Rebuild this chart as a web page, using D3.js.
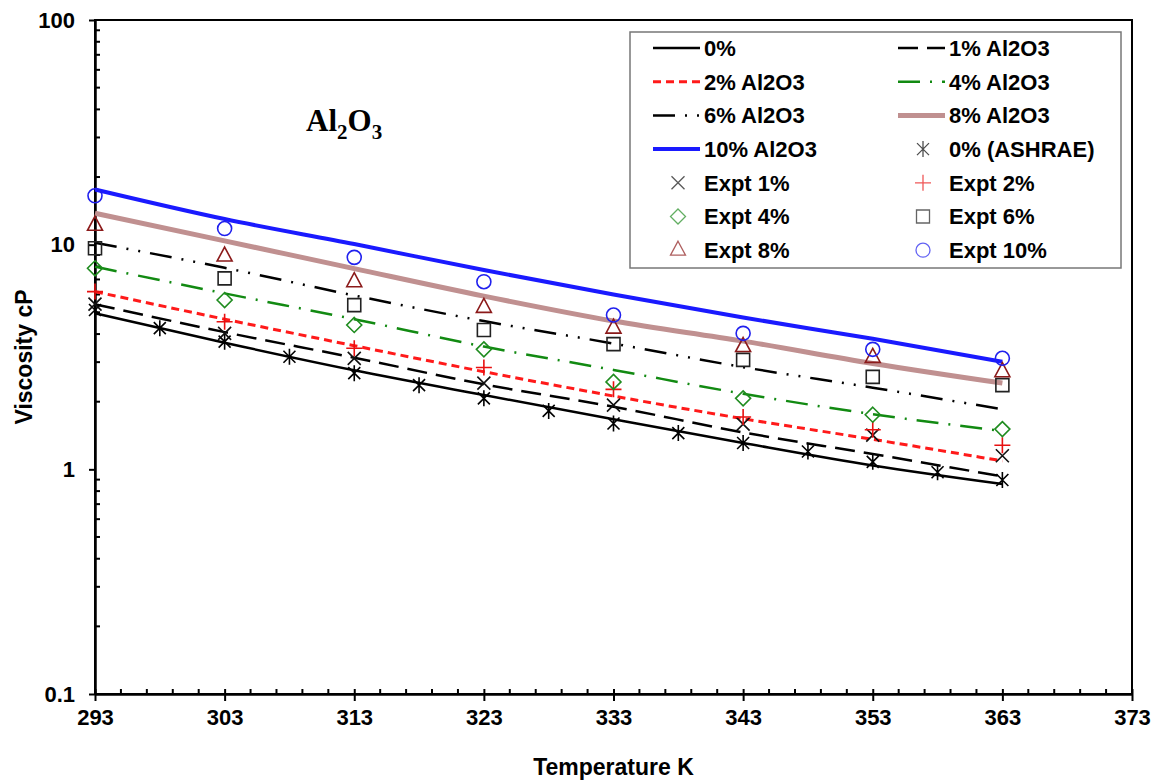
<!DOCTYPE html>
<html>
<head>
<meta charset="utf-8">
<script src="https://cdn.jsdelivr.net/npm/d3@7"></script>
<style>
  body { margin: 0; background: #fff; }
  text { font-family: "Liberation Sans", Arial, sans-serif; font-weight: bold; fill: #000; }
</style>
</head>
<body>
<svg id="chart"></svg>
<script>
// temperatures (K) for model curves and experiments
const temps = [293, 303, 313, 323, 333, 343, 353, 363];
const ashraeTemps = [293, 298, 303, 308, 313, 318, 323, 328, 333, 338, 343, 348, 353, 358, 363];

// model curves, viscosity in cP
const model0 = [4.95, 3.66, 2.76, 2.14, 1.67, 1.31, 1.04, 0.86];
const model1 = [5.43, 4.08, 3.14, 2.39, 1.90, 1.46, 1.17, 0.93];
const model2 = [6.18, 4.66, 3.55, 2.72, 2.12, 1.68, 1.36, 1.09];
const model4 = [7.98, 6.07, 4.66, 3.52, 2.77, 2.17, 1.76, 1.48];
const model6 = [10.2, 7.89, 5.94, 4.57, 3.63, 2.85, 2.31, 1.85];
const model8 = [13.8, 10.4, 7.82, 5.90, 4.57, 3.72, 2.96, 2.42];
const model10 = [17.6, 13.0, 10.06, 7.71, 6.00, 4.74, 3.81, 3.01];

// ASHRAE base fluid
const ashrae0 = [5.12, 4.25, 3.70, 3.17, 2.68, 2.37, 2.07, 1.82, 1.60, 1.45, 1.31, 1.20, 1.08, 0.97, 0.896];

// experiments
const expt1 = [5.44, 4.03, 3.12, 2.42, 1.93, 1.59, 1.42, 1.15];
const expt2 = [6.18, 4.54, 3.46, 2.84, 2.27, 1.71, 1.50, 1.28];
const expt4 = [7.85, 5.67, 4.39, 3.42, 2.45, 2.07, 1.75, 1.51];
const expt6 = [9.64, 7.08, 5.38, 4.17, 3.61, 3.07, 2.58, 2.37];
const expt8 = [12.2, 8.90, 6.84, 5.26, 4.25, 3.52, 3.15, 2.72];
const expt10 = [16.5, 11.8, 8.78, 6.84, 4.86, 4.03, 3.42, 3.12];

const xTicks = [293, 303, 313, 323, 333, 343, 353, 363, 373];
const yTicks = [0.1, 1, 10, 100];

const width = 1159, height = 784;
const margin = { top: 20, right: 27, bottom: 90, left: 95 };

const svg = d3.select("#chart").attr("width", width).attr("height", height);

const x = d3.scaleLinear().domain([293, 373]).range([margin.left, width - margin.right]);
const y = d3.scaleLog().domain([0.1, 100]).range([height - margin.bottom, margin.top]);

const lines = [
  { name: "0%", data: model0, color: "#000", w: 2.5, dash: null },
  { name: "1% Al2O3", data: model1, color: "#000", w: 2.5, dash: "20,9" },
  { name: "2% Al2O3", data: model2, color: "#ff1a1a", w: 3, dash: "8,5" },
  { name: "4% Al2O3", data: model4, color: "#128a12", w: 2.5, dash: "22,10,2,10" },
  { name: "6% Al2O3", data: model6, color: "#000", w: 2.5, dash: "22,10,2,10,2,10" },
  { name: "8% Al2O3", data: model8, color: "#c09090", w: 5, dash: null },
  { name: "10% Al2O3", data: model10, color: "#1a1aff", w: 4, dash: null }
];

const points = [
  { name: "0% (ASHRAE)", t: ashraeTemps, data: ashrae0, shape: "star", color: "#000" },
  { name: "Expt 1%", t: temps, data: expt1, shape: "x", color: "#111" },
  { name: "Expt 2%", t: temps, data: expt2, shape: "plus", color: "#e81010" },
  { name: "Expt 4%", t: temps, data: expt4, shape: "diamond", color: "#1f8c1f" },
  { name: "Expt 6%", t: temps, data: expt6, shape: "square", color: "#222" },
  { name: "Expt 8%", t: temps, data: expt8, shape: "triangle", color: "#8b1a1a" },
  { name: "Expt 10%", t: temps, data: expt10, shape: "circle", color: "#2020ee" }
];

function markerPath(shape) {
  const p = d3.path();
  if (shape === "circle") { p.arc(0, 0, 7, 0, 2 * Math.PI); p.closePath(); }
  else if (shape === "square") { p.rect(-6.5, -6.5, 13, 13); }
  else if (shape === "diamond") { p.moveTo(0, -7.5); p.lineTo(7.5, 0); p.lineTo(0, 7.5); p.lineTo(-7.5, 0); p.closePath(); }
  else if (shape === "triangle") { p.moveTo(0, -9); p.lineTo(7.5, 5); p.lineTo(-7.5, 5); p.closePath(); }
  else if (shape === "plus") { p.moveTo(-8, 0); p.lineTo(8, 0); p.moveTo(0, -8); p.lineTo(0, 8); }
  else if (shape === "x") { p.moveTo(-6.5, -6.5); p.lineTo(6.5, 6.5); p.moveTo(-6.5, 6.5); p.lineTo(6.5, -6.5); }
  else if (shape === "star") {
    p.moveTo(-6, -6); p.lineTo(6, 6); p.moveTo(-6, 6); p.lineTo(6, -6);
    p.moveTo(0, -8); p.lineTo(0, 8);
  }
  return p.toString();
}

// plot frame
svg.append("rect")
  .attr("x", margin.left).attr("y", margin.top)
  .attr("width", x(373) - x(293)).attr("height", y(0.1) - y(100))
  .attr("fill", "none").attr("stroke", "#000").attr("stroke-width", 2);

// x axis: major ticks both sides, minor inside
const xMinor = d3.range(293, 373, 2).filter(v => (v - 293) % 10 !== 0);
const gx = svg.append("g").attr("transform", `translate(0,${y(0.1)})`);
gx.selectAll(".minor").data(xMinor).enter().append("line")
  .attr("x1", d => x(d)).attr("x2", d => x(d)).attr("y1", 0).attr("y2", -5)
  .attr("stroke", "#000").attr("stroke-width", 2);
gx.call(d3.axisBottom(x).tickValues(xTicks).tickFormat(d3.format("d")).tickSizeInner(7).tickSizeOuter(0).tickPadding(8));
gx.select(".domain").attr("stroke-width", 2.5);
gx.selectAll(".tick line").attr("y1", -5).attr("stroke-width", 2);
gx.selectAll(".tick text").style("font-size", "22px").style("font-family", "Liberation Sans, Arial, sans-serif").style("font-weight", "bold");

// y axis: major ticks outside, minor inside
const yMinor = [];
[0.1, 1, 10].forEach(d => { for (let k = 2; k <= 9; k++) yMinor.push(d * k); });
const gy = svg.append("g").attr("transform", `translate(${x(293)},0)`);
gy.selectAll(".minor").data(yMinor).enter().append("line")
  .attr("x1", 0).attr("x2", 5).attr("y1", d => y(d)).attr("y2", d => y(d))
  .attr("stroke", "#000").attr("stroke-width", 2);
gy.call(d3.axisLeft(y).tickValues(yTicks).tickFormat(d => d < 1 ? "0.1" : d3.format("d")(d)).tickSizeInner(6).tickSizeOuter(0).tickPadding(14));
gy.select(".domain").attr("stroke-width", 2.5);
gy.selectAll(".tick line").attr("stroke-width", 2);
gy.selectAll(".tick text").style("font-size", "22px").style("font-family", "Liberation Sans, Arial, sans-serif").style("font-weight", "bold");

// axis titles
svg.append("text")
  .attr("x", (x(293) + x(373)) / 2).attr("y", 775)
  .attr("text-anchor", "middle").style("font-size", "23px")
  .text("Temperature K");
svg.append("text")
  .attr("transform", `translate(32,${(y(0.1) + y(100)) / 2}) rotate(-90)`)
  .attr("text-anchor", "middle").style("font-size", "23px")
  .text("Viscosity cP");

// chart label
const lbl = svg.append("text").attr("x", 306).attr("y", 131)
  .style("font-family", "Liberation Serif, Times New Roman, serif").style("font-size", "31px");
lbl.append("tspan").text("Al");
lbl.append("tspan").attr("dy", 8).style("font-size", "21px").text("2");
lbl.append("tspan").attr("dy", -8).text("O");
lbl.append("tspan").attr("dy", 8).style("font-size", "21px").text("3");

// model curves
const lineGen = d3.line()
  .x((d, i) => x(temps[i]))
  .y(d => y(d))
  .curve(d3.curveMonotoneX);

svg.selectAll(".model").data(lines).enter().append("path")
  .attr("class", "model")
  .attr("d", d => lineGen(d.data))
  .attr("fill", "none")
  .attr("stroke", d => d.color)
  .attr("stroke-width", d => d.w)
  .attr("stroke-dasharray", d => d.dash);

// markers
points.forEach(s => {
  svg.append("g").selectAll("path").data(s.data).enter().append("path")
    .attr("d", markerPath(s.shape))
    .attr("transform", (d, i) => `translate(${x(s.t[i])},${y(d)})`)
    .attr("fill", "none")
    .attr("stroke", s.color)
    .attr("stroke-width", 1.6);
});

// legend
const leg = svg.append("g");
leg.append("rect")
  .attr("x", 630).attr("y", 32).attr("width", 491).attr("height", 236)
  .attr("fill", "#fff").attr("stroke", "#777").attr("stroke-width", 1.5);

const legendItems = [
  { kind: "line", item: lines[0] }, { kind: "line", item: lines[1] },
  { kind: "line", item: lines[2] }, { kind: "line", item: lines[3] },
  { kind: "line", item: lines[4] }, { kind: "line", item: lines[5] },
  { kind: "line", item: lines[6] }, { kind: "point", item: points[0] },
  { kind: "point", item: points[1] }, { kind: "point", item: points[2] },
  { kind: "point", item: points[3] }, { kind: "point", item: points[4] },
  { kind: "point", item: points[5] }, { kind: "point", item: points[6] }
];

const colX = [653, 898];
const rowY = d3.range(7).map(r => 48 + r * 33.7);

legendItems.forEach((li, idx) => {
  const cx = colX[idx % 2], cy = rowY[Math.floor(idx / 2)];
  if (li.kind === "line") {
    leg.append("line")
      .attr("x1", cx).attr("x2", cx + 47).attr("y1", cy).attr("y2", cy)
      .attr("stroke", li.item.color).attr("stroke-width", li.item.w)
      .attr("stroke-dasharray", li.item.dash);
  } else {
    leg.append("path")
      .attr("d", markerPath(li.item.shape))
      .attr("transform", `translate(${cx + 25},${cy})`)
      .attr("fill", "none").attr("stroke", li.item.color).attr("stroke-width", 1.3)
      .attr("opacity", 0.7);
  }
  leg.append("text")
    .attr("x", cx + 51).attr("y", cy).attr("dy", "0.36em")
    .style("font-size", "22px")
    .text(li.item.name);
});
</script>
</body>
</html>
